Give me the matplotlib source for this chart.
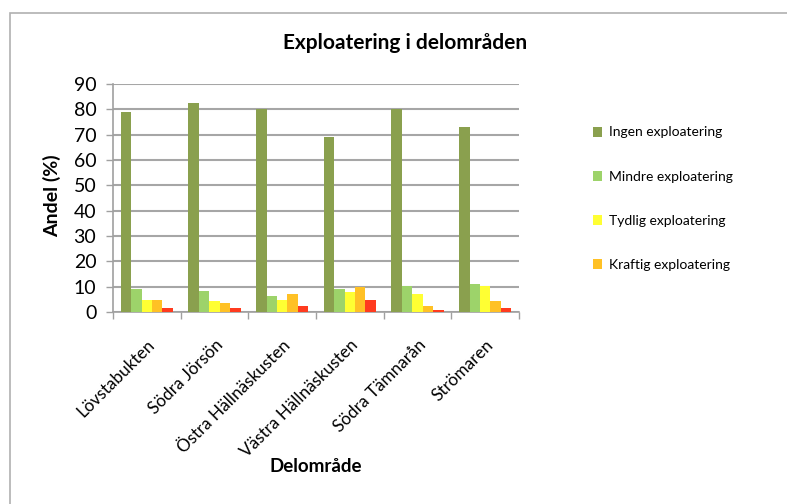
import matplotlib
matplotlib.use('Agg')
import matplotlib.pyplot as plt
import numpy as np
from matplotlib.patches import Rectangle, Patch

# --- DATA ---
areas = ["Lövstabukten", "Södra Jörsön", "Östra Hällnäskusten",
         "Västra Hällnäskusten", "Södra Tämnarån", "Strömaren"]
ingen = [79, 82.5, 80, 69, 80, 73]
mindre = [9.1, 8.4, 6.3, 9.1, 10.3, 11]
tydlig = [4.9, 4.2, 4.9, 7.7, 7, 10.3]
kraftig = [4.9, 3.5, 7, 9.7, 2.2, 4.2]
mycket = [1.6, 1.6, 2.2, 4.9, 0.8, 1.6]

series = [ingen, mindre, tydlig, kraftig, mycket]
names = ["Ingen exploatering", "Mindre exploatering", "Tydlig exploatering",
         "Kraftig exploatering", "Mycket kraftig exploatering"]
colors = ['#8AA04E', '#9DD36A', '#FFFF33', '#FFC125', '#FF3B1F']

FONT = ['Lato', 'DejaVu Sans']
plt.rcParams['font.family'] = FONT

fig = plt.figure(figsize=(7.87, 5.04), dpi=100)
ax = fig.add_axes([113/787, 1-312/504, (519-113)/787, (312-84)/504])

# chart area frame
fig.patches.append(Rectangle((10/787, -0.05), 1.1, 1-13/504+0.05, transform=fig.transFigure,
                             fill=False, edgecolor='#B0B0B0', linewidth=1.2))

w = 1 / 6.5
x = np.arange(len(areas))
for i, (vals, c) in enumerate(zip(series, colors)):
    ax.bar(x - 2.5*w + w/2 + i*w, vals, width=w, color=c, zorder=3, edgecolor='none')

ax.set_xlim(-0.5, len(areas) - 0.5)
ax.set_ylim(0, 90)
ax.set_yticks(range(0, 91, 10))
ax.tick_params(axis='y', labelsize=14, colors='#A0A0A0', labelcolor='black',
               length=5, width=1, pad=7)
ax.set_xticks(x)
ax.set_xticklabels(areas, rotation=45, ha='right', rotation_mode='anchor', fontsize=12.3)
ax.tick_params(axis='x', length=0, pad=18)
ax.set_xticks(np.arange(-0.5, len(areas)), minor=True)
ax.tick_params(axis='x', which='minor', length=5, width=1, color='#A0A0A0')

ax.grid(axis='y', color='#A6A6A6', linewidth=1.5, zorder=0)
for s in ['top', 'right']:
    ax.spines[s].set_visible(False)
for s in ['left', 'bottom']:
    ax.spines[s].set_color('#A0A0A0')
    ax.spines[s].set_linewidth(1.2)

fig.text(52/787, 1-196/504, "Andel (%)", rotation=90, ha='center', va='center',
         fontsize=14, fontweight='bold')
fig.text(316/787, 1-466/504, "Delområde", ha='center', va='center',
         fontsize=13.5, fontweight='bold')
fig.text(405/787, 1-43/504, "Exploatering i delområden", ha='center', va='center',
         fontsize=15, fontweight='bold')

handles = [Patch(facecolor=c, edgecolor='none') for c in colors[:4]]
fig.legend(handles, names[:4], loc='upper left', bbox_to_anchor=(580/787, 1-114/504),
           frameon=False, fontsize=10, handlelength=0.7, handleheight=0.7,
           handletextpad=0.5, labelspacing=2.32)

plt.savefig("out.png", dpi=100)
